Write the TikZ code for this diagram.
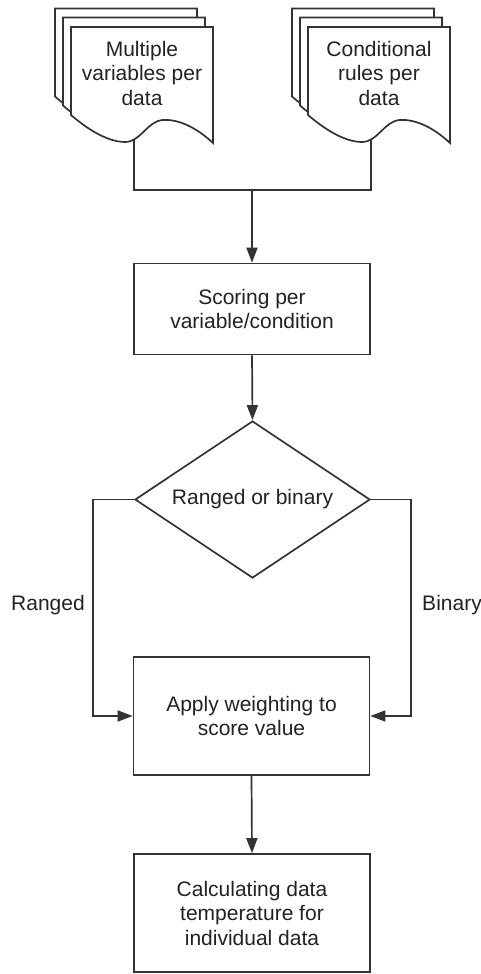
\documentclass[tikz,border=0pt]{standalone}
\usepackage{fontspec}
\setmainfont{Liberation Sans}
\usetikzlibrary{shapes.geometric,arrows.meta}
\definecolor{ink}{RGB}{51,51,51}
\definecolor{txt}{RGB}{34,34,34}

% one sheet of the stacked-document symbol, top-left corner at (#1,#2)
\newcommand{\pagesheet}[2]{%
  \begin{scope}[shift={(#1,#2)}]
    \path[page] (0,0) -- (142,0) -- (142,116)
      .. controls (126,101) and (108,92) .. (92,93)
      .. controls (76,94) and (70,115) .. (54,115)
      .. controls (36,115) and (15,101) .. (0,88) -- cycle;
  \end{scope}}

\begin{document}
\begin{tikzpicture}[x=1pt,y=-1pt,
  line/.style={draw=ink,line width=1.7pt},
  arrow/.style={line,-{Triangle[length=15pt,width=11pt]}},
  page/.style={line,fill=white,line join=miter},
  label/.style={text=txt,font=\fontsize{21}{24.5}\selectfont,align=center,inner sep=0pt},
  box/.style={line,rectangle,fill=white,minimum width=236pt,label},
  decision/.style={line,diamond,fill=white,shape aspect=1.5,
    minimum width=235pt,minimum height=157pt,label}
]
\useasboundingbox (0,0) rectangle (481,974);

% input document stacks
\pagesheet{55}{8.5}
\pagesheet{63}{17.5}
\pagesheet{71}{27}
\pagesheet{292}{8.5}
\pagesheet{300}{17.5}
\pagesheet{308}{27}
\node[label] (docA) at (142,73) {Multiple\\variables per\\data};
\node[label] (docB) at (379,73) {Conditional\\rules per\\data};
\coordinate (docAout) at (134,139);
\coordinate (docBout) at (371,139);
\coordinate (join) at (252,190);

% process steps
\node[box,minimum height=91pt] (score) at (252,309) {Scoring per\\variable/condition};
\node[decision] (dec) at (252.5,499.5) {Ranged or binary};
\node[box,minimum height=118pt] (apply) at (251.5,716) {Apply weighting to\\score value};
\node[box,minimum height=118pt] (calc) at (252,913) {Calculating data\\temperature for\\individual data};

% branch labels
\node[label] (ranged) at (48,605) {Ranged};
\node[label] (binary) at (452,605) {Binary};

% connectors
\coordinate (lx) at (93,0);
\coordinate (rx) at (411,0);
\draw[line] (docAout) |- (join) -| (docBout);
\draw[arrow] (join) -- (score.north);
\draw[arrow] (score.south) -- (dec.north);
\draw[arrow] (dec.west) -| (lx |- apply.west) -- (apply.west);
\draw[arrow] (dec.east) -| (rx |- apply.east) -- (apply.east);
\draw[arrow] (apply.south) -- (calc.north);
\end{tikzpicture}
\end{document}
